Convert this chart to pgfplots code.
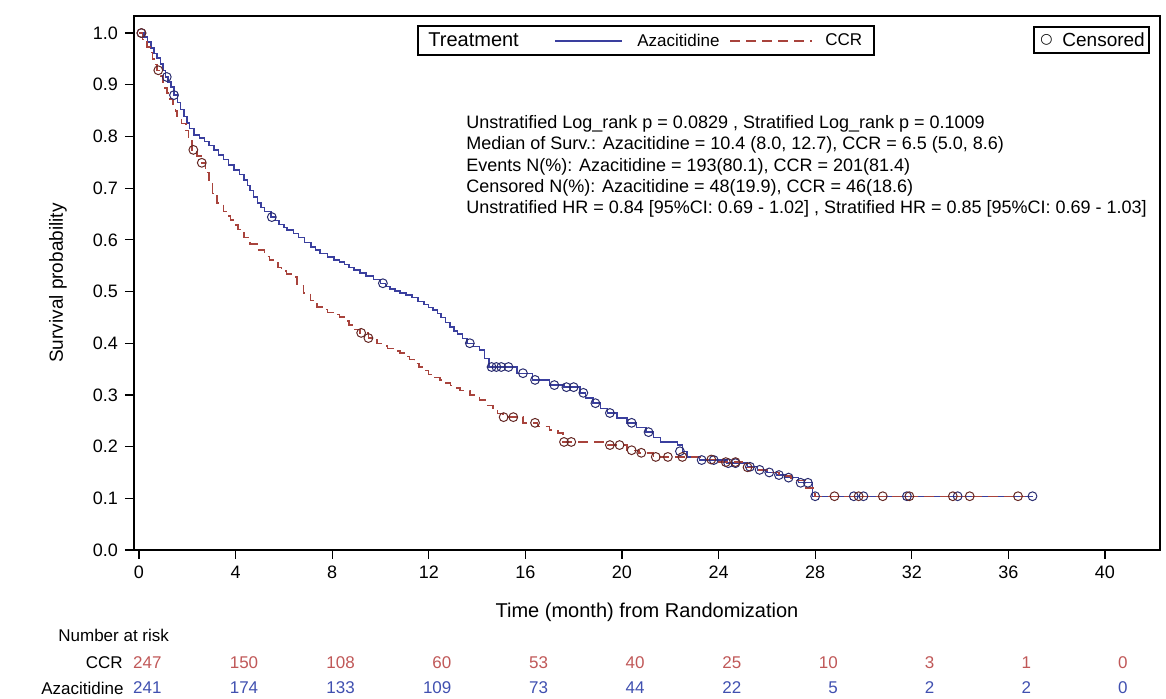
\documentclass[border=0pt]{standalone}
\usepackage{pgfplots}
\pgfplotsset{compat=1.18}
\usepackage{fontspec}
\setmainfont{Liberation Sans}
\newfontfamily\dejavu{DejaVu Sans}
\definecolor{azablue}{HTML}{3A3F9E}
\definecolor{ccrred}{HTML}{A8433C}
\definecolor{azanum}{HTML}{4050B0}
\definecolor{ccrnum}{HTML}{C05858}

\begin{document}
\begin{tikzpicture}
\path[use as bounding box] (-67pt,-74.5pt) rectangle (516pt,275pt);
\begin{axis}[
    at={(0,0)}, anchor=south west,
    width=513pt, height=267pt, scale only axis,
    xmin=-0.207, xmax=42.28,
    ymin=0, ymax=1.033,
    xtick={0,4,8,12,16,20,24,28,32,36,40},
    ytick={0,0.1,0.2,0.3,0.4,0.5,0.6,0.7,0.8,0.9,1.0},
    tick pos=left, tick align=outside,
    major tick length=4.5pt,
    axis line style={line width=0.8pt},
    tick style={black, line width=0.6pt},
    ticklabel style={font=\fontsize{9}{10.8}\selectfont},
    /pgf/number format/assume math mode=true,
    yticklabel style={/pgf/number format/.cd, fixed, fixed zerofill, precision=1},
    xlabel={Time (month) from Randomization},
    xlabel style={font=\fontsize{10}{12}\selectfont, at={(0.5,-0.1161)}, anchor=center},
    ylabel={Survival probability},
    ylabel style={font=\fontsize{9.5}{11}\selectfont, at={(-0.0741,0.5)}, anchor=center},
    clip=false,
]

% Azacitidine
\addplot[const plot, azablue, line width=0.7pt] coordinates {
(0,1.000)(0.2,0.992)(0.35,0.983)(0.5,0.971)(0.62,0.961)(0.75,0.952)(0.9,0.940)
(1.0,0.927)(1.1,0.915)(1.2,0.905)(1.32,0.896)(1.45,0.880)(1.6,0.866)(1.72,0.852)
(1.86,0.838)(1.98,0.826)(2.1,0.815)(2.28,0.803)(2.5,0.797)(2.7,0.790)(2.9,0.782)
(3.1,0.774)(3.3,0.764)(3.5,0.755)(3.7,0.745)(3.93,0.735)(4.15,0.726)(4.35,0.716)
(4.5,0.705)(4.6,0.695)(4.75,0.683)(4.9,0.671)(5.05,0.663)(5.2,0.655)(5.47,0.644)
(5.65,0.637)(5.8,0.630)(6.0,0.624)(6.13,0.619)(6.4,0.612)(6.6,0.605)(6.85,0.595)
(7.12,0.586)(7.3,0.580)(7.5,0.574)(7.8,0.567)(8.07,0.561)(8.3,0.557)(8.5,0.552)
(8.7,0.547)(8.9,0.542)(9.15,0.536)(9.4,0.530)(9.7,0.523)(10.0,0.516)(10.2,0.510)
(10.4,0.505)(10.6,0.501)(10.8,0.497)(11.05,0.493)(11.3,0.488)(11.55,0.481)
(11.8,0.475)(12.0,0.469)(12.17,0.464)(12.35,0.457)(12.5,0.450)(12.7,0.440)
(12.88,0.431)(13.05,0.424)(13.2,0.418)(13.4,0.409)(13.58,0.400)(13.85,0.394)
(14.1,0.387)(14.3,0.371)(14.5,0.354)(15.65,0.342)(16.3,0.329)(17.0,0.319)
(17.6,0.315)(18.26,0.304)(18.5,0.294)(18.8,0.284)(19.1,0.274)(19.4,0.265)
(19.8,0.255)(20.2,0.246)(20.6,0.237)(21.0,0.228)(21.3,0.218)(21.6,0.209)
(22.3,0.203)(22.5,0.191)(22.7,0.180)(23.2,0.174)(24.35,0.168)(25.2,0.161)
(25.6,0.155)(26.0,0.150)(26.4,0.145)(26.8,0.140)(27.3,0.130)(27.9,0.104)(37.0,0.104)
};
% CCR
\addplot[const plot, ccrred, line width=0.7pt, dash pattern=on 5pt off 3pt] coordinates {
(0,1.000)(0.15,0.988)(0.33,0.973)(0.45,0.962)(0.55,0.950)(0.65,0.939)(0.75,0.928)
(0.88,0.917)(1.0,0.905)(1.08,0.894)(1.16,0.884)(1.28,0.872)(1.4,0.860)(1.5,0.849)
(1.57,0.838)(1.75,0.825)(1.95,0.812)(2.05,0.795)(2.19,0.774)(2.4,0.762)(2.57,0.749)
(2.75,0.730)(2.9,0.710)(3.05,0.690)(3.23,0.671)(3.5,0.655)(3.65,0.646)(3.8,0.638)
(3.95,0.629)(4.1,0.620)(4.35,0.605)(4.6,0.592)(4.9,0.580)(5.2,0.568)(5.4,0.561)
(5.6,0.555)(5.75,0.547)(5.9,0.540)(6.1,0.534)(6.3,0.528)(6.55,0.512)(6.8,0.497)
(7.1,0.483)(7.37,0.470)(7.6,0.465)(7.8,0.460)(8.05,0.455)(8.3,0.451)(8.5,0.443)
(8.7,0.435)(8.95,0.427)(9.15,0.420)(9.5,0.410)(9.85,0.400)(10.05,0.395)(10.3,0.390)
(10.55,0.385)(10.8,0.381)(11.0,0.374)(11.2,0.368)(11.4,0.361)(11.6,0.354)
(11.8,0.347)(12.0,0.340)(12.25,0.334)(12.46,0.329)(12.7,0.323)(12.9,0.318)
(13.1,0.313)(13.3,0.309)(13.7,0.300)(14.1,0.290)(14.4,0.280)(14.66,0.271)
(14.85,0.264)(15.07,0.257)(15.9,0.246)(16.5,0.239)(17.0,0.232)(17.35,0.226)
(17.56,0.209)(19.4,0.203)(20.2,0.193)(20.7,0.188)(21.3,0.180)(23.3,0.175)
(24.0,0.170)(25.0,0.160)(25.5,0.155)(26.0,0.150)(26.5,0.143)(27.0,0.135)
(27.6,0.120)(28.0,0.104)(36.7,0.104)
};
% censored, Azacitidine
\addplot[only marks, mark=o, mark size=2.2pt, azablue!70!black, mark options={line width=0.5pt}] coordinates {
(0.1,1.000)(1.15,0.915)(1.45,0.880)(5.5,0.644)(10.1,0.516)(13.7,0.400)
(14.6,0.354)(14.8,0.354)(15.0,0.354)(15.3,0.354)(15.9,0.342)(16.4,0.329)
(17.2,0.319)(17.7,0.315)(18.0,0.315)(18.4,0.304)(18.9,0.284)(19.5,0.265)
(20.4,0.246)(21.1,0.228)(22.4,0.191)(23.3,0.174)(23.8,0.174)(24.4,0.168)
(24.7,0.168)(25.3,0.161)(25.7,0.155)(26.1,0.150)(26.5,0.145)(26.9,0.140)
(27.4,0.130)(27.7,0.130)
(28.0,0.104)(29.6,0.104)(30.0,0.104)(31.8,0.104)(33.9,0.104)(37.0,0.104)
};
% censored, CCR
\addplot[only marks, mark=o, mark size=2.2pt, ccrred!60!black, mark options={line width=0.5pt}] coordinates {
(0.1,1.000)(0.8,0.928)(2.25,0.774)(2.6,0.749)(9.2,0.420)(9.5,0.410)
(15.1,0.257)(15.5,0.257)(16.4,0.246)(17.6,0.209)(17.9,0.209)(19.5,0.203)
(19.9,0.203)(20.4,0.193)(20.8,0.188)(21.4,0.180)(21.9,0.180)(22.5,0.180)
(23.7,0.175)(24.3,0.170)(24.7,0.170)(25.2,0.160)
(28.8,0.104)(29.8,0.104)(30.8,0.104)(31.9,0.104)(33.7,0.104)(34.4,0.104)(36.4,0.104)
};
\end{axis}

% legend: treatment
\draw[line width=0.6pt] (142pt,247.5pt) rectangle (370pt,262pt);
\node[anchor=west, inner sep=0pt, font=\fontsize{10}{12}\selectfont] at (147pt,255pt) {Treatment};
\draw[azablue, line width=0.7pt] (210.5pt,254.5pt) -- (244pt,254.5pt);
\node[anchor=west, inner sep=0pt, font=\fontsize{8.5}{10}\selectfont] at (251.5pt,255pt) {Azacitidine};
\draw[ccrred, line width=0.7pt, dash pattern=on 5pt off 3pt] (298pt,254.5pt) -- (339pt,254.5pt);
\node[anchor=west, inner sep=0pt, font=\fontsize{8.5}{10}\selectfont] at (345.5pt,255pt) {CCR};
% legend: censored
\draw[line width=0.6pt] (450pt,248.5pt) rectangle (507.5pt,261.5pt);
\node[anchor=west, inner sep=0pt, font=\fontsize{7}{8}\selectfont] at (453pt,255pt) {\dejavu ○};
\node[anchor=west, inner sep=0pt, font=\fontsize{9.5}{11}\selectfont] at (464pt,255pt) {Censored};

% statistics
\begin{scope}[every node/.style={anchor=west, inner sep=0pt, font=\fontsize{9}{11}\selectfont}]
\node at (166pt,213pt) {Unstratified Log\_rank p = 0.0829 , Stratified Log\_rank p = 0.1009};
\node at (166pt,202.5pt) {Median of Surv.: Azacitidine = 10.4 (8.0, 12.7), CCR = 6.5 (5.0, 8.6)};
\node at (166pt,191.5pt) {Events N(\%): Azacitidine = 193(80.1), CCR = 201(81.4)};
\node at (166pt,181pt) {Censored N(\%): Azacitidine = 48(19.9), CCR = 46(18.6)};
\node at (166pt,170.5pt) {Unstratified HR = 0.84 [95\%CI: 0.69 - 1.02] , Stratified HR = 0.85 [95\%CI: 0.69 - 1.03]};
\end{scope}

% number at risk
\begin{scope}[every node/.style={inner sep=0pt, font=\fontsize{8.5}{10}\selectfont}]
\node[anchor=west] at (-38pt,-42.5pt) {Number at risk};
\node[anchor=east] at (-5.5pt,-56.5pt) {CCR};
\node[anchor=east] at (-5pt,-69pt) {Azacitidine};
\foreach \t/\n in {0/247,4/150,8/108,12/60,16/53,20/40,24/25,28/10,32/3,36/1,40/0}
  \node[anchor=east, text=ccrnum] at ({14pt+12.075pt*\t},-56.5pt) {\n};
\foreach \t/\n in {0/241,4/174,8/133,12/109,16/73,20/44,24/22,28/5,32/2,36/2,40/0}
  \node[anchor=east, text=azanum] at ({14pt+12.075pt*\t},-69pt) {\n};
\end{scope}
\end{tikzpicture}
\end{document}
